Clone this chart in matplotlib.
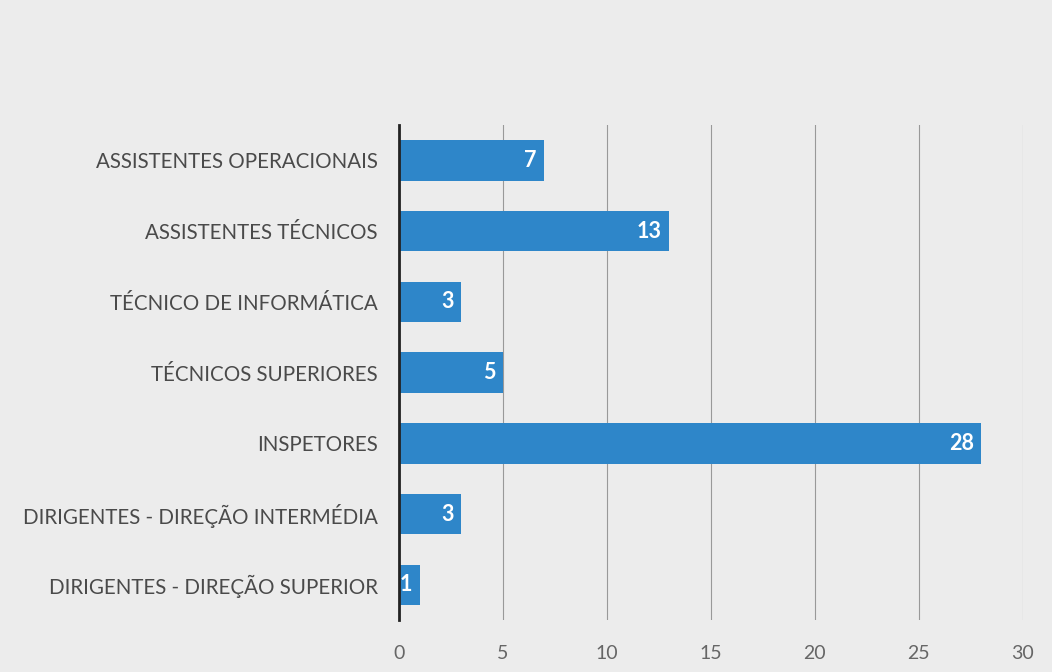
import matplotlib.pyplot as plt

categories = [
    "ASSISTENTES OPERACIONAIS",
    "ASSISTENTES TÉCNICOS",
    "TÉCNICO DE INFORMÁTICA",
    "TÉCNICOS SUPERIORES",
    "INSPETORES",
    "DIRIGENTES - DIREÇÃO INTERMÉDIA",
    "DIRIGENTES - DIREÇÃO SUPERIOR",
]
values = [7, 13, 3, 5, 28, 3, 1]
x_ticks = [0, 5, 10, 15, 20, 25, 30]

bg = "#ececec"
bar_color = "#2e86c9"
text_color = "#4a4a4a"

plt.rcParams["font.family"] = ["Lato", "DejaVu Sans"]

fig = plt.figure(figsize=(10.52, 6.72), dpi=100, facecolor=bg)
ax = fig.add_axes([0.379, 0.077, 0.593, 0.737])
ax.set_facecolor(bg)

ypos = list(range(len(categories)))[::-1]
ax.barh(ypos, values, height=0.57, color=bar_color, zorder=2)

# value labels inside the bar ends
for y, v in zip(ypos, values):
    ax.text(v - 0.35, y, str(v), ha="right", va="center", color="white",
            fontsize=15.5, fontweight="bold", zorder=3)

ax.set_xlim(0, 30)
ax.set_ylim(-0.5, 6.5)
ax.set_xticks(x_ticks)
ax.set_yticks(ypos)
ax.set_yticklabels(categories)
ax.tick_params(axis="y", length=0, labelsize=14.8, labelcolor=text_color, pad=15)
ax.tick_params(axis="x", length=0, labelsize=14, labelcolor="#666666", pad=18)

ax.grid(axis="x", color="#999999", linewidth=0.8, zorder=1)
for s in ["top", "right", "bottom"]:
    ax.spines[s].set_visible(False)
ax.spines["left"].set_linewidth(2)
ax.spines["left"].set_color("#222222")
ax.spines["left"].set_zorder(4)

fig.savefig("out.png", dpi=100, facecolor=bg)
